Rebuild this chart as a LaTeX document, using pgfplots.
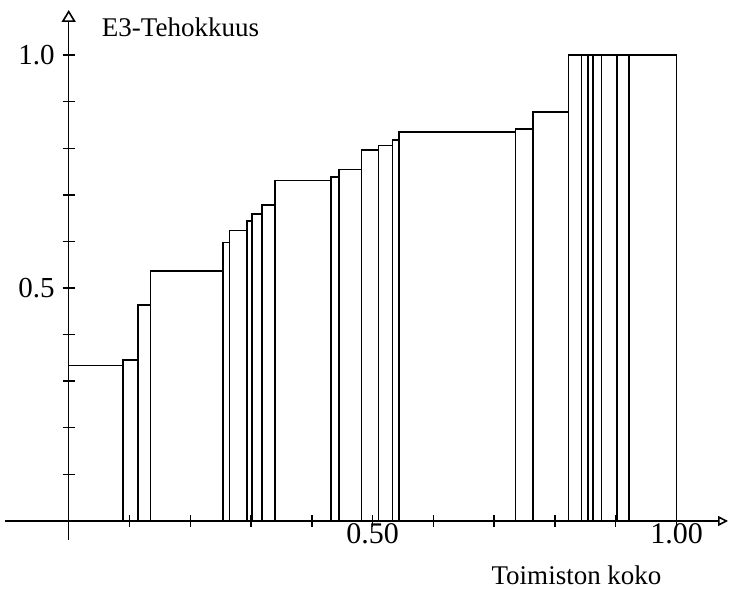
\documentclass[border=0pt]{standalone}
\usepackage{fontspec}
\setmainfont{Liberation Serif}
\usepackage{pgfplots}
\pgfplotsset{compat=1.18}
\usetikzlibrary{arrows.meta}
\begin{document}
\begin{tikzpicture}
\begin{axis}[
  scale only axis, width=361.5pt, height=265pt,
  xmin=-0.1048, xmax=1.0847, ymin=-0.0408, ymax=1.0966,
  axis lines=middle,
  axis line style={line width=0.8pt},
  x axis line style={-{Triangle[open,length=5pt,width=5pt]}},
  y axis line style={-{Triangle[open,length=6pt,width=7pt]}},
  clip=false,
  tick align=center,
  major tick length=6pt, minor tick length=6pt,
  every tick/.style={black, line width=0.7pt},
  xtick={0.5,1.0}, xticklabels={0.50,1.00},
  minor xtick={0.1,0.2,0.3,0.4,0.6,0.7,0.8,0.9},
  ytick={0.5,1.0}, yticklabels={0.5,1.0},
  minor ytick={0.1,0.2,0.3,0.4,0.6,0.7,0.8,0.9},
  /pgf/number format/assume math mode=true,
  xticklabel style={font=\fontsize{15}{15}\selectfont, yshift=5.5pt},
  yticklabel style={font=\fontsize{14.5}{14.5}\selectfont, xshift=-0.5pt},
  xlabel={Toimiston koko},
  ylabel={E3-Tehokkuus},
  every axis x label/.style={at={(axis cs:0.8355,-0.137)}, anchor=base, font=\fontsize{13.5}{13.5}\selectfont},
  every axis y label/.style={at={(axis cs:0.043,1.039)}, anchor=base west, font=\fontsize{13.5}{13.5}\selectfont},
]
\addplot[ybar interval, draw=black, fill=none, line width=0.8pt] coordinates {
(0,0.334)
(0.0898,0.3455)
(0.1145,0.4635)
(0.1349,0.5365)
(0.2543,0.5976)
(0.2645,0.623)
(0.2933,0.6444)
(0.3015,0.6588)
(0.3179,0.6777)
(0.3393,0.7311)
(0.4314,0.7388)
(0.4451,0.7547)
(0.4816,0.7961)
(0.5095,0.8054)
(0.5329,0.8176)
(0.5433,0.8354)
(0.7352,0.8406)
(0.7641,0.8783)
(0.8224,1.0)
(0.8438,1.0)
(0.8546,1.0)
(0.8628,1.0)
(0.8766,1.0)
(0.9023,1.0)
(0.9220,1.0)
(1.0,1.0)
};
\end{axis}
\pgfresetboundingbox
\path ([shift={(-2.5pt,-24pt)}]current axis.south west) rectangle ([shift={(1.5pt,5pt)}]current axis.north east);
\end{tikzpicture}
\end{document}
